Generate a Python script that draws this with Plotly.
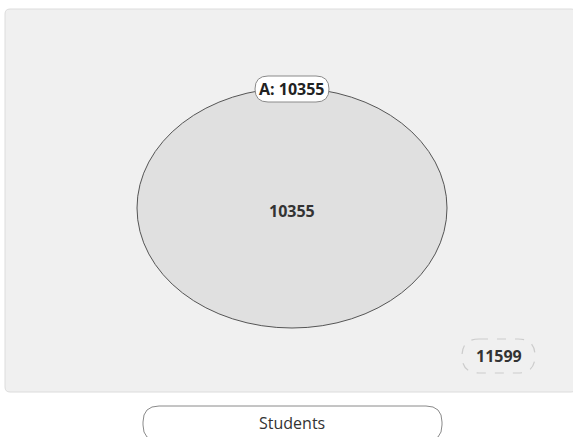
import plotly.graph_objects as go

# ---- data ----
set_names = ["A"]
set_sizes = [10355]
universe_total = [11599]
universe_label = ["Students"]

W, H = 573, 437
FONT = "Open Sans"

def rrect(x0, y0, x1, y1, r):
    return (f"M{x0+r},{y0} L{x1-r},{y0} Q{x1},{y0} {x1},{y0+r} "
            f"L{x1},{y1-r} Q{x1},{y1} {x1-r},{y1} L{x0+r},{y1} "
            f"Q{x0},{y1} {x0},{y1-r} L{x0},{y0+r} Q{x0},{y0} {x0+r},{y0} Z")

fig = go.Figure()
fig.add_trace(go.Scatter(x=[0, W], y=[0, H], mode="markers",
                         marker=dict(opacity=0), hoverinfo="skip", showlegend=False))

shapes = []
# universe box
shapes.append(dict(type="path", path=rrect(5, 9, 576, 392, 5),
                   fillcolor="#f0f0f0", line=dict(color="#dcdcdc", width=1), layer="below"))
# set ellipse
cx, cy, rx, ry = 292, 208, 155, 120
shapes.append(dict(type="circle", x0=cx-rx, x1=cx+rx, y0=cy-ry, y1=cy+ry,
                   fillcolor="#e0e0e0", line=dict(color="#555555", width=1), layer="below"))
# set label pill
shapes.append(dict(type="path", path=rrect(255, 76, 329, 102, 13),
                   fillcolor="#ffffff", line=dict(color="#8a8a8a", width=1)))
# universe count pill (dashed)
shapes.append(dict(type="path", path=rrect(462, 339, 535, 373, 17),
                   fillcolor="rgba(0,0,0,0)", line=dict(color="#cccccc", width=1.2, dash="dash")))
# universe label pill
shapes.append(dict(type="path", path=rrect(143, 406, 442, 441, 16),
                   fillcolor="#ffffff", line=dict(color="#8a8a8a", width=1)))

annotations = []
for name, size in zip(set_names, set_sizes):
    annotations.append(dict(x=cx, y=89, text=f"<b>{name}: {size}</b>", showarrow=False,
                            font=dict(family=FONT, size=16, color="#222")))
    annotations.append(dict(x=cx, y=211, text=f"<b>{size}</b>", showarrow=False,
                            font=dict(family=FONT, size=16, color="#333")))
annotations.append(dict(x=498.5, y=356, text=f"<b>{universe_total[0]}</b>", showarrow=False,
                        font=dict(family=FONT, size=16, color="#333")))
annotations.append(dict(x=292, y=423, text=universe_label[0], showarrow=False,
                        font=dict(family=FONT, size=16, color="#333")))

fig.update_layout(
    width=W, height=H, margin=dict(l=0, r=0, t=0, b=0),
    paper_bgcolor="#ffffff", plot_bgcolor="#ffffff",
    xaxis=dict(range=[0, W], visible=False, fixedrange=True),
    yaxis=dict(range=[H, 0], visible=False, fixedrange=True),
    shapes=shapes, annotations=annotations, showlegend=False,
)
fig.write_html("out.html", config={"displayModeBar": False},
               post_script="document.body.style.margin='0';document.body.style.overflow='hidden';")
